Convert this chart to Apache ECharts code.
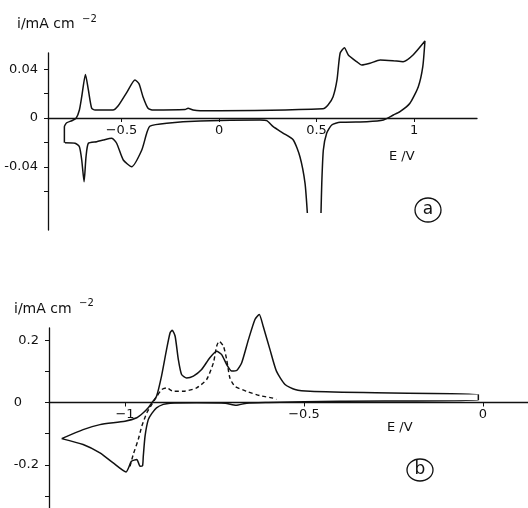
<!DOCTYPE html>
<html>
<head>
<meta charset="utf-8">
<script src="https://cdn.jsdelivr.net/npm/echarts@6.0.0/dist/echarts.min.js"></script>
<style>
  html, body { margin: 0; padding: 0; background: #fff; }
  #chart { width: 528px; height: 508px; }
</style>
</head>
<body>
<div id="chart"></div>
<script>
// panel a : [E / V, i / mA cm-2]
var aAnodic = [
    [-0.793, -0.0203], [-0.793, -0.0071], [-0.781, -0.0039], [-0.755, -0.0022], [-0.733, -0.0002],
    [-0.716, 0.0066], [-0.704, 0.0175], [-0.685, 0.0357], [-0.670, 0.0230], [-0.653, 0.0080],
    [-0.636, 0.0066], [-0.544, 0.0066], [-0.518, 0.0098], [-0.472, 0.0213], [-0.431, 0.0312],
    [-0.410, 0.0280], [-0.390, 0.0175], [-0.364, 0.0080], [-0.338, 0.0066], [-0.174, 0.0070],
    [-0.159, 0.0080], [-0.133, 0.0066], [-0.097, 0.0060], [0.533, 0.0076], [0.559, 0.0107],
    [0.585, 0.0175], [0.605, 0.0312], [0.621, 0.0531], [0.643, 0.0576], [0.663, 0.0517],
    [0.706, 0.0462], [0.732, 0.0435], [0.774, 0.0449], [0.826, 0.0476], [0.892, 0.0470],
    [0.944, 0.0462], [0.995, 0.0517], [1.056, 0.0631]
];
var aCathodicHigh = [
    [1.045, 0.0421], [1.022, 0.0257], [0.979, 0.0121], [0.928, 0.0052], [0.894, 0.0025],
    [0.843, -0.0016], [0.758, -0.0030], [0.621, -0.0035], [0.578, -0.0057], [0.552, -0.0125],
    [0.535, -0.0262], [0.527, -0.0533], [0.523, -0.0779]
];
var aCathodicLow = [
    [0.453, -0.0779], [0.441, -0.0533], [0.415, -0.0317], [0.381, -0.0180], [0.330, -0.0125],
    [0.278, -0.0071], [0.245, -0.0022], [0.210, -0.0016], [-0.097, -0.0025], [-0.268, -0.0043],
    [-0.354, -0.0066], [-0.371, -0.0125], [-0.396, -0.0262], [-0.448, -0.0399], [-0.491, -0.0344],
    [-0.525, -0.0207], [-0.550, -0.0166], [-0.593, -0.0180], [-0.627, -0.0194], [-0.670, -0.0207],
    [-0.682, -0.0317], [-0.692, -0.0522], [-0.704, -0.0344], [-0.716, -0.0235], [-0.738, -0.0207],
    [-0.790, -0.0203]
];

// panel b
var bSolid = [
    [-1.177, -0.116], [-1.117, -0.087], [-1.070, -0.071], [-1.000, -0.060], [-0.967, -0.049],
    [-0.949, -0.033], [-0.935, -0.017], [-0.925, -0.001], [-0.912, 0.020], [-0.898, 0.085],
    [-0.884, 0.170], [-0.874, 0.224], [-0.868, 0.232], [-0.860, 0.213], [-0.851, 0.138],
    [-0.842, 0.090], [-0.828, 0.079], [-0.809, 0.085], [-0.786, 0.106], [-0.763, 0.144],
    [-0.744, 0.165], [-0.730, 0.154], [-0.716, 0.122], [-0.702, 0.101], [-0.688, 0.103],
    [-0.674, 0.128], [-0.655, 0.203], [-0.637, 0.267], [-0.625, 0.283], [-0.614, 0.245],
    [-0.595, 0.170], [-0.577, 0.101], [-0.553, 0.058], [-0.525, 0.042], [-0.483, 0.036],
    [-0.300, 0.031], [-0.013, 0.026], [-0.013, 0.008], [-0.400, 0.004], [-0.600, 0.000],
    [-0.660, -0.002], [-0.690, -0.009], [-0.720, -0.002], [-0.800, -0.001], [-0.874, -0.002],
    [-0.893, -0.006], [-0.912, -0.017], [-0.925, -0.035], [-0.935, -0.055], [-0.944, -0.108],
    [-0.949, -0.174], [-0.951, -0.203], [-0.958, -0.205], [-0.967, -0.183], [-0.982, -0.189],
    [-0.997, -0.223], [-1.033, -0.194], [-1.070, -0.162], [-1.117, -0.135], [-1.177, -0.116]
];
var bDashed = [
    [-0.986, -0.205], [-0.977, -0.167], [-0.963, -0.119], [-0.953, -0.076], [-0.939, -0.033],
    [-0.925, -0.006], [-0.911, 0.020], [-0.897, 0.042], [-0.884, 0.047], [-0.865, 0.036],
    [-0.837, 0.036], [-0.800, 0.047], [-0.772, 0.074], [-0.753, 0.128], [-0.744, 0.181],
    [-0.737, 0.197], [-0.725, 0.181], [-0.716, 0.138], [-0.707, 0.079], [-0.693, 0.052],
    [-0.660, 0.036], [-0.623, 0.022], [-0.586, 0.014], [-0.577, 0.010]
];

// ticks and labels
var aXLabels = [-0.5, 0, 0.5, 1];
var aYTicks = [0.04, 0.02, 0, -0.02, -0.04, -0.06];
var aYLabels = [0.04, 0, -0.04];
var bXLabels = [-1, -0.5, 0];
var bYTicks = [0.2, 0.1, 0, -0.1, -0.2, -0.3];
var bYLabels = [0.2, 0, -0.2];

var FONT = 'DejaVu Sans';
var INK = '#111';

// the E axis sits on i = 0, so it is lifted from the grid bottom by offset
function xAxisOf(gridIndex, min, max, labels, offset) {
    return {
        type: 'value', gridIndex: gridIndex, min: min, max: max,
        position: 'bottom', offset: offset,
        axisLine: { onZero: false, lineStyle: { color: INK, width: 1.3 } },
        axisTick: { show: true, length: 4, customValues: labels, lineStyle: { color: INK } },
        axisLabel: {
            customValues: labels, margin: 6, color: INK, fontFamily: FONT, fontSize: 13,
            formatter: function (v) { return v < 0 ? '\u2212' + Math.abs(v) : String(v); }
        },
        splitLine: { show: false }
    };
}

function yAxisOf(gridIndex, min, max, ticks, labels, fmt) {
    return {
        type: 'value', gridIndex: gridIndex, min: min, max: max,
        axisLine: { show: true, onZero: false, lineStyle: { color: INK, width: 1.3 } },
        axisTick: { show: true, length: 4, customValues: ticks, lineStyle: { color: INK } },
        axisLabel: {
            customValues: labels, margin: 10, color: INK, fontFamily: FONT, fontSize: 13, formatter: fmt,
            rich: { z: { fontFamily: FONT, fontSize: 13, color: INK, padding: [0, 17, 0, 0] } }
        },
        splitLine: { show: false }
    };
}

function curve(axisIndex, data, dashed) {
    return {
        type: 'line', xAxisIndex: axisIndex, yAxisIndex: axisIndex,
        symbol: 'none', smooth: 0.2, clip: false, data: data,
        lineStyle: { color: INK, width: dashed ? 1.4 : 1.5, type: dashed ? [4, 3] : 'solid' }
    };
}

var option = {
    animation: false,
    backgroundColor: '#fff',
    grid: [
        { left: 48, top: 53, width: 429, height: 177 },
        { left: 49, top: 328, width: 479, height: 180 }
    ],
    xAxis: [
        xAxisOf(0, -0.877, 1.323, aXLabels, -112),
        xAxisOf(1, -1.2123, 0.1257, bXLabels, -105.5)
    ],
    yAxis: [
        yAxisOf(0, -0.0918, 0.0533, aYTicks, aYLabels, function (v) {
            return v === 0 ? '0' : (v < 0 ? '-' : '') + Math.abs(v).toFixed(2);
        }),
        yAxisOf(1, -0.339, 0.2395, bYTicks, bYLabels, function (v) {
            return v === 0 ? '{z|0}' : (v < 0 ? '-' : '') + Math.abs(v).toFixed(1);
        })
    ],
    series: [
        curve(0, aAnodic.concat(aCathodicHigh), false),
        curve(0, aCathodicLow.concat([aAnodic[0]]), false),
        curve(1, bSolid, false),
        curve(1, bDashed, true)
    ],
    graphic: [
        { type: 'text', left: 17, top: 17, style: { text: 'i/mA cm', font: '14px ' + FONT, fill: INK } },
        { type: 'text', left: 82, top: 14, style: { text: '\u22122', font: '10px ' + FONT, fill: INK } },
        { type: 'text', left: 389, top: 150, style: { text: 'E /V', font: '13px ' + FONT, fill: INK } },
        { type: 'ellipse', shape: { cx: 428, cy: 210, rx: 13, ry: 12 }, style: { fill: 'none', stroke: INK, lineWidth: 1.3 } },
        { type: 'text', x: 428, y: 210, style: { text: 'a', font: '17px ' + FONT, fill: INK, align: 'center', verticalAlign: 'middle' } },

        { type: 'text', left: 14, top: 302, style: { text: 'i/mA cm', font: '14px ' + FONT, fill: INK } },
        { type: 'text', left: 79, top: 298, style: { text: '\u22122', font: '10px ' + FONT, fill: INK } },
        { type: 'text', left: 387, top: 421, style: { text: 'E /V', font: '13px ' + FONT, fill: INK } },
        { type: 'ellipse', shape: { cx: 420, cy: 470, rx: 13, ry: 11 }, style: { fill: 'none', stroke: INK, lineWidth: 1.3 } },
        { type: 'text', x: 420, y: 470, style: { text: 'b', font: '17px ' + FONT, fill: INK, align: 'center', verticalAlign: 'middle' } }
    ]
};

var chart = echarts.init(document.getElementById('chart'));
chart.setOption(option);
</script>
</body>
</html>
